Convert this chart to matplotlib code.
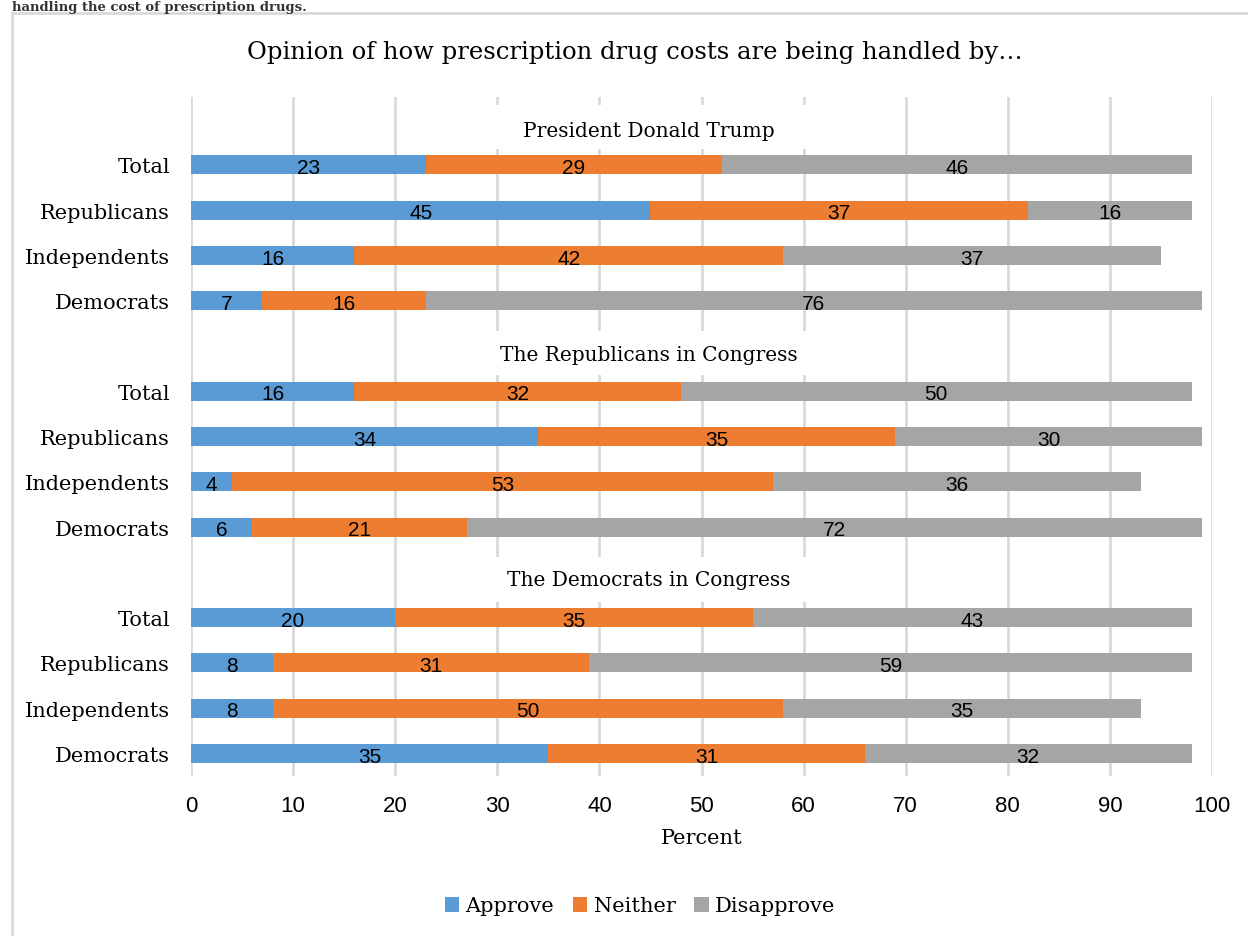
import matplotlib
matplotlib.use('Agg')
import matplotlib.pyplot as plt
from matplotlib.lines import Line2D
from matplotlib.patches import Patch, Rectangle

# data
groups = ['President Donald Trump', 'The Republicans in Congress', 'The Democrats in Congress']
parties = ['Total', 'Republicans', 'Independents', 'Democrats']
approve = [23, 45, 16, 7, 16, 34, 4, 6, 20, 8, 8, 35]
neither = [29, 37, 42, 16, 32, 35, 53, 21, 35, 31, 50, 31]
disapprove = [46, 16, 37, 76, 50, 30, 36, 72, 43, 59, 35, 32]
series = ['Approve', 'Neither', 'Disapprove']
colors = ['#5B9BD5', '#ED7D31', '#A5A5A5']
xticks = [0, 10, 20, 30, 40, 50, 60, 70, 80, 90, 100]

SERIF = ['DejaVu Serif']
NUM = ['Liberation Sans', 'DejaVu Sans']

fig = plt.figure(figsize=(12.48, 9.37), dpi=100)
ax = fig.add_axes([191 / 1248, 1 - 777 / 937, 1021 / 1248, 679 / 937])

# each group takes 5 slots: header slot + 4 party rows
ypos = []
labels = []
for g in range(len(groups)):
    for p, name in enumerate(parties):
        ypos.append(g * 5 + 1 + p)
        labels.append(name)

left = [0] * len(ypos)
for vals, name, col in zip([approve, neither, disapprove], series, colors):
    ax.barh(ypos, vals, left=left, height=0.42, color=col, label=name, zorder=2)
    for y, l, v in zip(ypos, left, vals):
        ax.text(l + v / 2, y + 0.06, str(v), ha='center', va='center',
                fontsize=15, family=NUM, color='black', zorder=4)
    left = [l + v for l, v in zip(left, vals)]

# group headers sit in white boxes that hide the gridlines
header_off = [0.25, 0.18, 0.15]
for g, name in enumerate(groups):
    ax.add_patch(Rectangle((25, g * 5 - 0.33), 40, 0.98, facecolor='white',
                           edgecolor='none', zorder=1))
    ax.text(44.8, g * 5 + header_off[g], name, ha='center', va='center',
            fontsize=14.5, family=SERIF, zorder=3)

ax.set_ylim(14.5, -0.5)
ax.set_xlim(0, 100)
ax.set_yticks(ypos)
ax.set_yticklabels(labels, family=SERIF, fontsize=15)
ax.set_xticks(xticks)
ax.set_xticklabels([str(t) for t in xticks], family=NUM, fontsize=16)
ax.tick_params(axis='both', length=0)
ax.tick_params(axis='y', pad=15)
ax.tick_params(axis='x', pad=14)
ax.set_xlabel('Percent', family=SERIF, fontsize=15, labelpad=8)
for s in ax.spines.values():
    s.set_visible(False)
ax.grid(axis='x', color='#D9D9D9', linewidth=2, zorder=0)
ax.set_axisbelow(True)

fig.text(635 / 1248, 1 - 52 / 937, 'Opinion of how prescription drug costs are being handled by…',
         ha='center', va='center', fontsize=17.5, family=SERIF)

# sentence above the chart frame (cut off in the source screenshot)
fig.text(12 / 1248, 1 - 0.5 / 937, 'handling the cost of prescription drugs.', ha='left',
         va='top', fontsize=9.5, family=SERIF, fontweight='bold', color='#333333')

# chart frame
fig.add_artist(Line2D([12 / 1248, 12 / 1248], [0, 1 - 14 / 937], transform=fig.transFigure,
                      color='#D9D9D9', linewidth=2))
fig.add_artist(Line2D([12 / 1248, 1], [1 - 14 / 937, 1 - 14 / 937], transform=fig.transFigure,
                      color='#D9D9D9', linewidth=2))

handles = [Patch(facecolor=c, edgecolor='none') for c in colors]
fig.legend(handles, series, loc='center', bbox_to_anchor=(640 / 1248, 1 - 907 / 937),
           ncol=3, frameon=False, prop={'family': SERIF, 'size': 15},
           handlelength=0.7, handleheight=0.7, handletextpad=0.3, columnspacing=0.9)

fig.savefig('out.png', dpi=100)
